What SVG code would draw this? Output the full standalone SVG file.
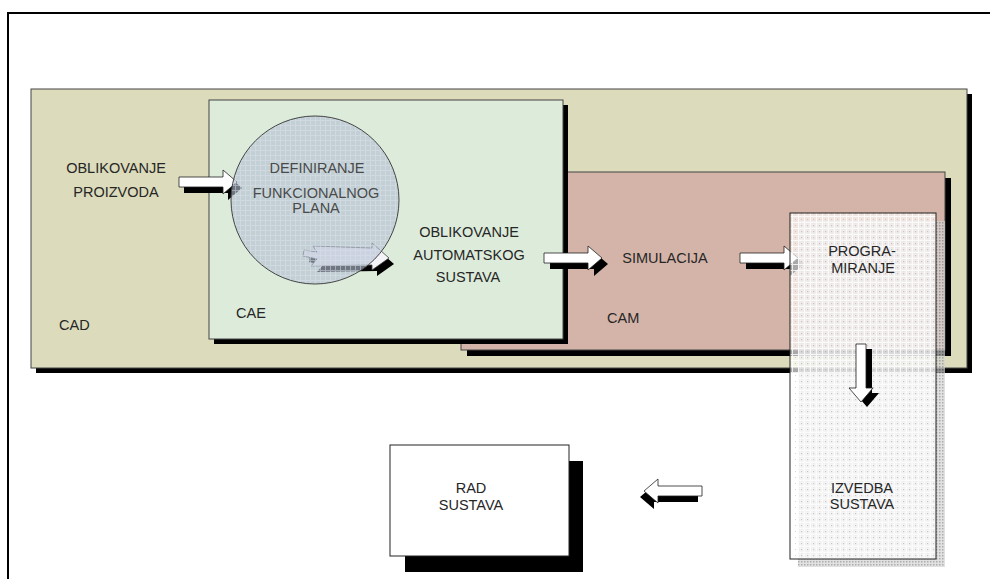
<svg xmlns="http://www.w3.org/2000/svg" width="990" height="579" viewBox="0 0 990 579">
<style>
.t{font-family:"Liberation Sans",Arial,sans-serif;font-size:14.5px;fill:#262626;}
.c{text-anchor:middle;}
.g{fill:#4a4a4a;}
.box{stroke:#444;stroke-width:1;}
.sh{fill:#000;}
.arr{fill:#fff;stroke:#222;stroke-width:0.8;}
</style>
<defs>
<pattern id="grid" width="6" height="6" patternUnits="userSpaceOnUse">
<path d="M0,0.5 H6 M0.5,0 V6" stroke="#fff" stroke-width="1" opacity="0.8"/>
<rect x="3" y="3" width="1" height="1" fill="#b8a4a4" opacity="0.5"/>
</pattern>
<pattern id="cgrid" width="5" height="5" patternUnits="userSpaceOnUse">
<path d="M0,0.5 H5 M0.5,0 V5" stroke="#dde2ea" stroke-width="1" opacity="0.5"/>
</pattern>
<pattern id="dots" width="3" height="3" patternUnits="userSpaceOnUse">
<rect width="3" height="3" fill="#d4d4d4"/>
<rect width="1.5" height="1.5" fill="#8a8a8a"/>
</pattern>
<path id="ra" d="M0,-5 H44 V-12 L58,0 L44,12 V5 H0 Z"/>
</defs>

<path d="M8,579 V13 H990" fill="none" stroke="#000" stroke-width="2"/>

<g id="cad">
<rect x="36" y="94" width="936" height="279" class="sh"/>
<rect x="31" y="89" width="936" height="279" fill="#dcdbbb" class="box"/>
<text x="59" y="330" class="t">CAD</text>
<text x="116" y="173" class="t c">OBLIKOVANJE</text>
<text x="116" y="197" class="t c">PROIZVODA</text>
</g>

<g id="cam">
<rect x="467" y="178" width="484" height="178" class="sh"/>
<rect x="461" y="172" width="484" height="178" fill="#d4b4a8" class="box"/>
<text x="607" y="323" class="t">CAM</text>
<text x="665" y="263" class="t c">SIMULACIJA</text>
</g>

<g id="cae">
<rect x="214" y="105" width="354" height="239" class="sh"/>
<rect x="209" y="100" width="354" height="239" fill="#ddecda" class="box"/>
<text x="236" y="318" class="t">CAE</text>
<text x="469" y="237" class="t c">OBLIKOVANJE</text>
<text x="469" y="260" class="t c">AUTOMATSKOG</text>
<text x="468" y="282" class="t c">SUSTAVA</text>
</g>

<g id="connectors">
<use href="#ra" transform="translate(184,188)" class="sh"/>
<use href="#ra" transform="translate(179,182)" class="arr"/>
<polygon points="310,256 323,258 319,252 377,254 377,249 394,264 377,276 377,271 317,272 323,265 309,262" class="sh"/>
<polygon points="304,250 317,252 313,246 372,248 372,243 389,258 372,270 372,265 311,266 317,259 303,256" fill="#f4f4f8" stroke="#444" stroke-width="0.8"/>
<use href="#ra" transform="translate(550,264)" class="sh"/>
<use href="#ra" transform="translate(544,258)" class="arr"/>
<use href="#ra" transform="translate(746,264)" class="sh"/>
<use href="#ra" transform="translate(740,258)" class="arr"/>
</g>

<g id="circle">
<circle cx="315" cy="200" r="84" fill="#b2bed2" opacity="0.62"/>
<circle cx="315" cy="200" r="84" fill="url(#cgrid)" stroke="#444" stroke-width="1"/>
<text x="317" y="173" class="t c g">DEFINIRANJE</text>
<text x="316" y="198" class="t c g">FUNKCIONALNOG</text>
<text x="316" y="213" class="t c g">PLANA</text>
</g>

<g id="izvedba">
<rect x="798" y="221" width="147" height="346" fill="url(#dots)" opacity="0.7"/>
<rect x="790" y="213" width="146" height="346" fill="#fff" opacity="0.66"/>
<rect x="790" y="213" width="146" height="346" fill="url(#grid)" stroke="#222" stroke-width="1"/>
<text x="862" y="256" class="t c">PROGRA-</text>
<text x="863" y="273" class="t c">MIRANJE</text>
<text x="862" y="493" class="t c">IZVEDBA</text>
<text x="862" y="509" class="t c">SUSTAVA</text>
</g>

<g id="connectors2">
<use href="#ra" transform="translate(867,349) rotate(90)" class="sh"/>
<use href="#ra" transform="translate(861,344) rotate(90)" class="arr"/>
<use href="#ra" transform="translate(698,497) rotate(180)" class="sh"/>
<use href="#ra" transform="translate(702,491) rotate(180)" class="arr"/>
</g>

<g id="rad">
<rect x="405" y="461" width="178" height="111" class="sh"/>
<rect x="390" y="445" width="179" height="111" fill="#fff" stroke="#222" stroke-width="1"/>
<text x="471" y="493" class="t c">RAD</text>
<text x="471" y="510" class="t c">SUSTAVA</text>
</g>
</svg>
